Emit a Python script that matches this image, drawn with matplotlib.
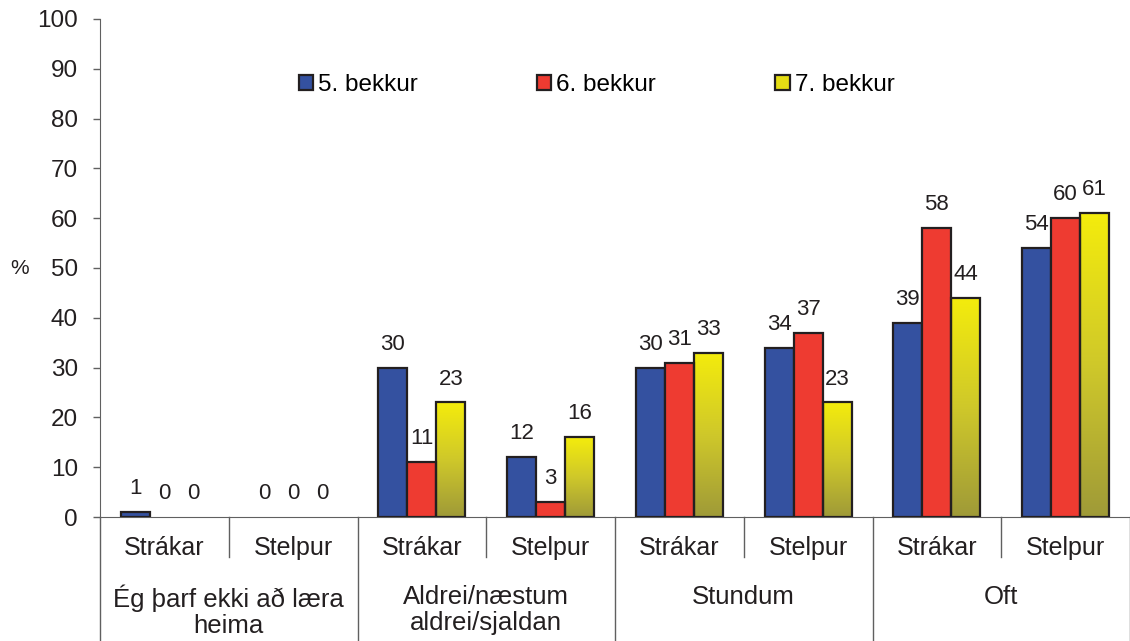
import matplotlib
matplotlib.use("Agg")
import matplotlib.pyplot as plt
from matplotlib.colors import LinearSegmentedColormap
from matplotlib.patches import Patch
import numpy as np

plt.rcParams["font.family"] = ["Liberation Sans", "DejaVu Sans"]

groups = ["Ég þarf ekki að læra\nheima", "Aldrei/næstum\naldrei/sjaldan", "Stundum", "Oft"]
genders = ["Strákar", "Stelpur"]
series = ["5. bekkur", "6. bekkur", "7. bekkur"]

# one value per (group, gender) slot, in order
bekkur5 = [1, 0, 30, 12, 30, 34, 39, 54]
bekkur6 = [0, 0, 11, 3, 31, 37, 58, 60]
bekkur7 = [0, 0, 23, 16, 33, 23, 44, 61]

yticks = list(range(0, 101, 10))

edge = "#231f20"
axis_col = "#606060"
txt = "#231f20"
blue = "#3451a0"
red = "#ee3b31"
yellow_cmap = LinearSegmentedColormap.from_list("yel", ["#9f9a38", "#cfc82a", "#f4ec0c"])

fig = plt.figure(figsize=(11.3, 6.41), dpi=100)
ax = fig.add_axes([100 / 1130, 1 - 517 / 641, 1 - 100 / 1130, (517 - 19) / 641])

n = len(bekkur5)
x = np.arange(n)
w = 0.225


def draw_bars(xs, vals, **kw):
    # zero values get no bar at all, like the original
    keep = [i for i, v in enumerate(vals) if v > 0]
    ax.bar([xs[i] for i in keep], [vals[i] for i in keep], w,
           edgecolor=edge, linewidth=1.6, zorder=3, **kw)


draw_bars(x - w, bekkur5, color=blue)
draw_bars(x, bekkur6, color=red)

# yellow bars with vertical gradient
grad = np.linspace(0, 1, 256).reshape(-1, 1)
for xi, v in zip(x + w, bekkur7):
    if v > 0:
        ax.imshow(grad, extent=[xi - w / 2, xi + w / 2, 0, v], origin="lower",
                  aspect="auto", cmap=yellow_cmap, zorder=2.5)
draw_bars(x + w, bekkur7, color="none")

for vals, off in [(bekkur5, -w), (bekkur6, 0), (bekkur7, w)]:
    for xi, v in zip(x + off, vals):
        ax.text(xi, v + 2.6, str(v), ha="center", va="bottom", fontsize=16, color=txt)

ax.set_xlim(-0.5, n - 0.5)
ax.set_ylim(0, 100)
ax.set_yticks(yticks)
ax.tick_params(axis="y", labelsize=17.5, length=5, width=1, color=axis_col, pad=11, labelcolor=txt)
ax.set_xticks([])
for s in ["top", "right"]:
    ax.spines[s].set_visible(False)
ax.spines["left"].set_color(axis_col)
ax.spines["bottom"].set_color(axis_col)
ax.spines["left"].set_bounds(0, 100)

ax.text(-0.078, 0.5, "%", transform=ax.transAxes, fontsize=15, ha="center", va="center", color=txt)

# category axis below the plot
trans = ax.get_xaxis_transform()
low_sub = -40 / 498
low_grp = -125 / 498
for i in range(n + 1):
    xb = i - 0.5
    yb = low_grp if i % 2 == 0 else low_sub
    ax.plot([xb, xb], [0, yb], transform=trans, color=axis_col, lw=1, clip_on=False)
for i in range(n):
    ax.text(i, -31 / 498, genders[i % 2], transform=trans, ha="center", va="center",
            fontsize=18, color=txt)
for g, name in enumerate(groups):
    ax.text(2 * g + 0.5, -68 / 498, name, transform=trans, ha="center", va="top",
            fontsize=18.5, color=txt, linespacing=1.08)

handles = [Patch(facecolor=blue, edgecolor=edge, lw=1.6),
           Patch(facecolor=red, edgecolor=edge, lw=1.6),
           Patch(facecolor="#e6de14", edgecolor=edge, lw=1.6)]
ax.legend(handles, series, ncol=3, loc="center", bbox_to_anchor=(0.482, 0.867),
          frameon=False, fontsize=17.5, handlelength=0.6, handleheight=0.6,
          handletextpad=0.2, columnspacing=4.9)

fig.savefig("out.png", dpi=100)
